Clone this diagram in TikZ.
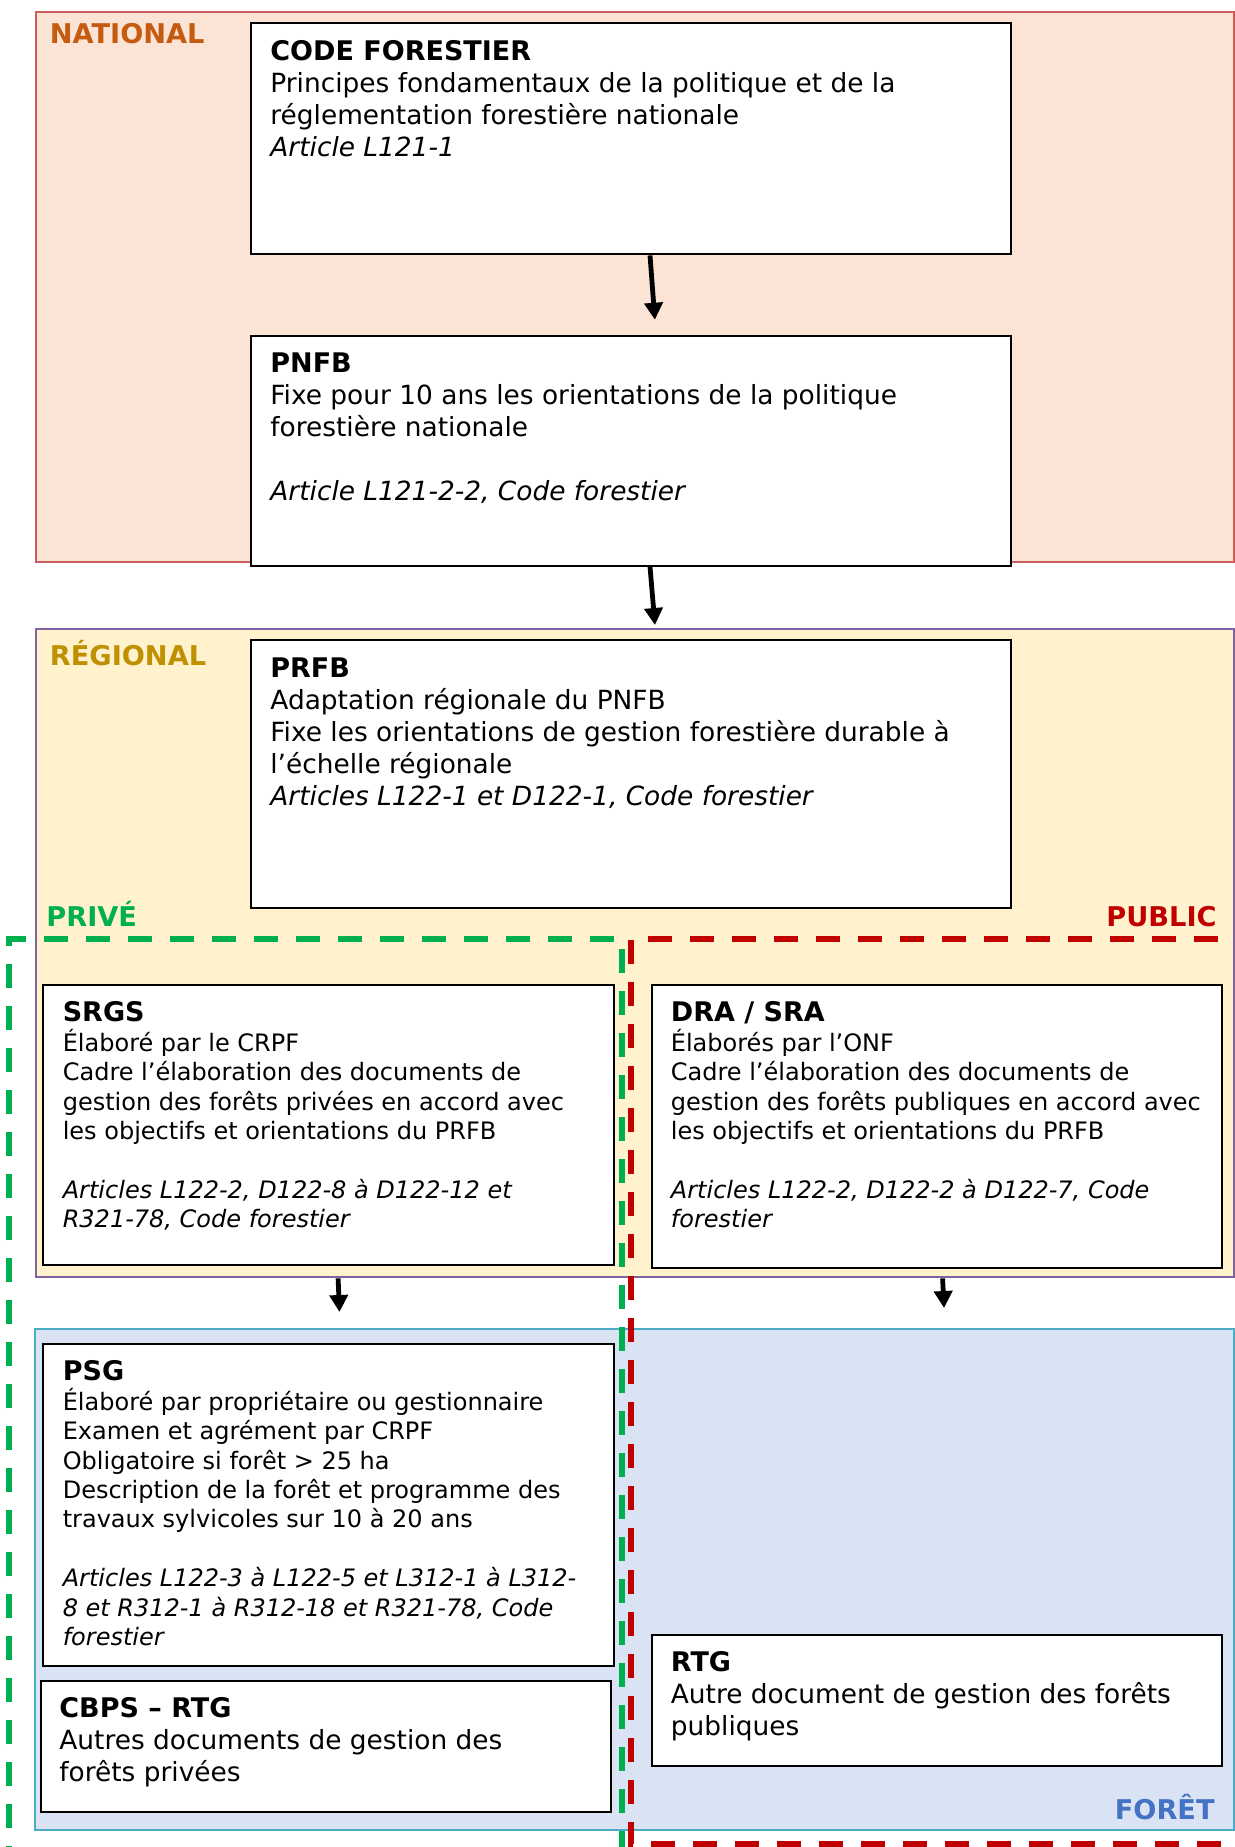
\documentclass[tikz,border=0pt]{standalone}
\usepackage{fontspec}
\setmainfont{DejaVu Sans}
\usetikzlibrary{arrows.meta}

\definecolor{natfill}{RGB}{251,227,214}
\definecolor{natline}{RGB}{205,92,92}
\definecolor{nattext}{RGB}{197,90,17}
\definecolor{regfill}{RGB}{255,242,204}
\definecolor{regline}{RGB}{128,100,162}
\definecolor{regtext}{RGB}{191,144,0}
\definecolor{forfill}{RGB}{218,227,243}
\definecolor{forline}{RGB}{75,172,198}
\definecolor{fortext}{RGB}{68,114,196}
\definecolor{privgreen}{RGB}{0,176,80}
\definecolor{pubred}{RGB}{192,0,0}

\newcommand{\boxhead}[1]{{\fontsize{13.5}{16}\selectfont\bfseries #1}}

\tikzset{
  zone/.style={draw, line width=1.2pt, anchor=north west, inner sep=0pt},
  docbox/.style={draw, line width=1pt, fill=white, anchor=north west, inner sep=0pt},
  doctext/.style={anchor=north west, inner sep=0pt, align=left, font=\fontsize{13.2}{16}\selectfont},
  doctextsmall/.style={doctext, font=\fontsize{12}{14.7}\selectfont},
  zonelabel/.style={inner sep=0pt, font=\fontsize{13.6}{16}\selectfont\bfseries},
  arrow/.style={-{Triangle[length=8.5pt,width=9pt]}, line width=2.4pt},
  privline/.style={draw=privgreen, line width=3pt, dash pattern=on 12pt off 9pt},
  publine/.style={draw=pubred, line width=3pt, dash pattern=on 12pt off 9pt},
}

\begin{document}
\begin{tikzpicture}[x=0.5pt, y=-0.5pt]
\useasboundingbox (0,0) rectangle (1235,1847);

% levels
\node[zone, draw=natline, fill=natfill, minimum width=599pt, minimum height=275pt] (national) at (35,10.5) {};
\node[zone, draw=regline, fill=regfill, minimum width=599pt, minimum height=324pt] (regional) at (35,628) {};
\node[zone, draw=forline, fill=forfill, minimum width=599.5pt, minimum height=250.5pt] (foret) at (34,1328) {};

% private / public
\draw[privline] (9,1870) -- (9,939) -- (622,939) -- (622,1870);
\draw[publine] (1260,939) -- (631,939) -- (631,1844) -- (1260,1844);

% documents
\node[docbox, minimum width=380pt, minimum height=115.5pt] (code) at (250,22.4) {};
\node[doctext] (code-txt) at ([xshift=10pt,yshift=-8.7pt]code.north west)
  {\boxhead{CODE FORESTIER}\\ Principes fondamentaux de la politique et de la\\ réglementation forestière nationale\\ \textit{Article L121-1}};

\node[docbox, minimum width=380pt, minimum height=115pt] (pnfb) at (250,334.7) {};
\node[doctext] (pnfb-txt) at ([xshift=10pt,yshift=-9pt]pnfb.north west)
  {\boxhead{PNFB}\\ Fixe pour 10 ans les orientations de la politique\\ forestière nationale\\[16pt] \textit{Article L121-2-2, Code forestier}};

\node[docbox, minimum width=380pt, minimum height=134pt] (prfb) at (250,639) {};
\node[doctext] (prfb-txt) at ([xshift=10pt,yshift=-9pt]prfb.north west)
  {\boxhead{PRFB}\\ Adaptation régionale du PNFB\\ Fixe les orientations de gestion forestière durable à\\ l’échelle régionale\\ \textit{Articles L122-1 et D122-1, Code forestier}};

\node[docbox, minimum width=285.3pt, minimum height=140pt] (srgs) at (42.4,984) {};
\node[doctextsmall] (srgs-txt) at ([xshift=10pt,yshift=-8.7pt]srgs.north west)
  {\boxhead{SRGS}\\ Élaboré par le CRPF\\ Cadre l’élaboration des documents de\\ gestion des forêts privées en accord avec\\ les objectifs et orientations du PRFB\\[14.7pt] \textit{Articles L122-2, D122-8 à D122-12 et}\\ \textit{R321-78, Code forestier}};

\node[docbox, minimum width=285.3pt, minimum height=141.5pt] (dra) at (650.5,984) {};
\node[doctextsmall] (dra-txt) at ([xshift=10pt,yshift=-8.7pt]dra.north west)
  {\boxhead{DRA / SRA}\\ Élaborés par l’ONF\\ Cadre l’élaboration des documents de\\ gestion des forêts publiques en accord avec\\ les objectifs et orientations du PRFB\\[14.7pt] \textit{Articles L122-2, D122-2 à D122-7, Code}\\ \textit{forestier}};

\node[docbox, minimum width=285.3pt, minimum height=161pt] (psg) at (42.4,1343) {};
\node[doctextsmall] (psg-txt) at ([xshift=10pt,yshift=-8.7pt]psg.north west)
  {\boxhead{PSG}\\ Élaboré par propriétaire ou gestionnaire\\ Examen et agrément par CRPF\\ Obligatoire si forêt > 25 ha\\ Description de la forêt et programme des\\ travaux sylvicoles sur 10 à 20 ans\\[14.7pt] \textit{Articles L122-3 à L122-5 et L312-1 à L312-}\\ \textit{8 et R312-1 à R312-18 et R321-78, Code}\\ \textit{forestier}};

\node[docbox, minimum width=285pt, minimum height=65.5pt] (cbps) at (40,1680) {};
\node[doctext] (cbps-txt) at ([xshift=9.5pt,yshift=-8.7pt]cbps.north west)
  {\boxhead{CBPS – RTG}\\ Autres documents de gestion des\\ forêts privées};

\node[docbox, minimum width=285.3pt, minimum height=65.5pt] (rtg) at (650.5,1634) {};
\node[doctext] (rtg-txt) at ([xshift=10pt,yshift=-8.7pt]rtg.north west)
  {\boxhead{RTG}\\ Autre document de gestion des forêts\\ publiques};

% labels
\node[zonelabel, text=nattext, anchor=base west] (lbl-national) at (49.5,43) {NATIONAL};
\node[zonelabel, text=regtext, anchor=base west] (lbl-regional) at (49.5,665) {RÉGIONAL};
\node[zonelabel, text=privgreen, anchor=base west] (lbl-prive) at (46,926) {PRIVÉ};
\node[zonelabel, text=pubred, anchor=base east] (lbl-public) at (1217,926) {PUBLIC};
\node[zonelabel, text=fortext, anchor=base east] (lbl-foret) at (1215,1819) {FORÊT};

% arrows
\draw[arrow, shorten >=7.5pt] ([xshift=9.5pt]code.south) -- ([xshift=12.5pt]pnfb.north);
\draw[arrow, shorten >=1.5pt] ([xshift=9.5pt]pnfb.south) -- ([xshift=10pt]regional.north);
\draw[arrow, shorten >=8pt] ([xshift=4.7pt]srgs.south |- regional.south) -- ([xshift=5.7pt]srgs.south |- foret.north);
\draw[arrow, shorten >=10pt] ([xshift=2.9pt]dra.south |- regional.south) -- ([xshift=4.1pt]dra.south |- foret.north);
\end{tikzpicture}
\end{document}
